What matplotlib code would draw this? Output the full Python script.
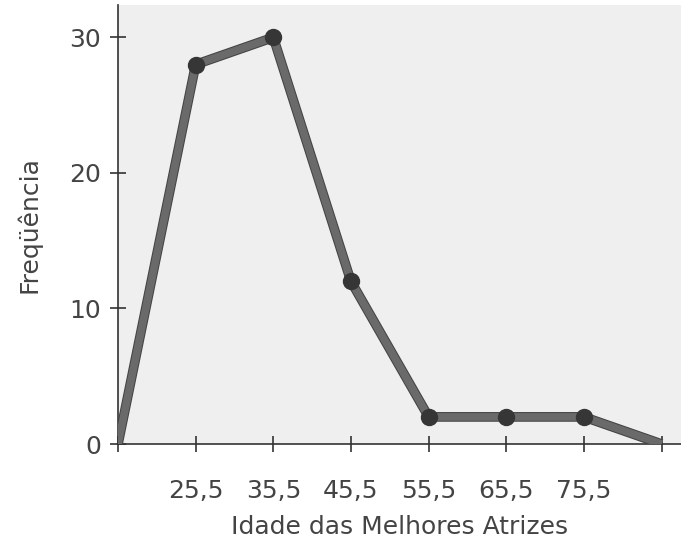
import matplotlib.pyplot as plt
import matplotlib.patheffects as pe

# ---DATA---
midpoints = [15.5, 25.5, 35.5, 45.5, 55.5, 65.5, 75.5, 85.5]
frequency = [0, 28, 30, 12, 2, 2, 2, 0]
x_ticks = [15.5, 25.5, 35.5, 45.5, 55.5, 65.5, 75.5, 85.5]
x_labels = ["", "25,5", "35,5", "45,5", "55,5", "65,5", "75,5", ""]
y_ticks = [0, 10, 20, 30]

text_color = "#444444"
plt.rcParams["font.family"] = ["DejaVu Sans"]

fig = plt.figure(figsize=(6.81, 5.42), dpi=100)
ax = fig.add_axes([0.1733, 0.1808, 0.8267, 0.8102])
ax.set_facecolor("#efefef")

ax.plot(
    midpoints, frequency,
    color="#6a6a6a", linewidth=5.5, solid_capstyle="butt",
    path_effects=[pe.Stroke(linewidth=7, foreground="#444444"), pe.Normal()],
    zorder=3,
)
ax.plot(
    midpoints[1:-1], frequency[1:-1],
    linestyle="none", marker="o", markersize=11.5,
    color="#363636", zorder=4,
)

ax.set_xlim(15.5, 88.0)
ax.set_ylim(0, 32.4)
ax.set_xticks(x_ticks)
ax.set_xticklabels(x_labels)
ax.set_yticks(y_ticks)

for side in ["top", "right"]:
    ax.spines[side].set_visible(False)
for side in ["left", "bottom"]:
    ax.spines[side].set_color("#333333")
    ax.spines[side].set_linewidth(1.2)

ax.tick_params(axis="both", direction="inout", length=12, width=1.2,
               color="#333333", labelcolor=text_color, labelsize=18)
ax.tick_params(axis="x", pad=19)
ax.tick_params(axis="y", pad=6)

ax.set_xlabel("Idade das Melhores Atrizes", fontsize=18, color=text_color, labelpad=9)
ax.set_ylabel("Freqüência", fontsize=18, color=text_color, labelpad=20)

fig.savefig("out.png", dpi=100)
